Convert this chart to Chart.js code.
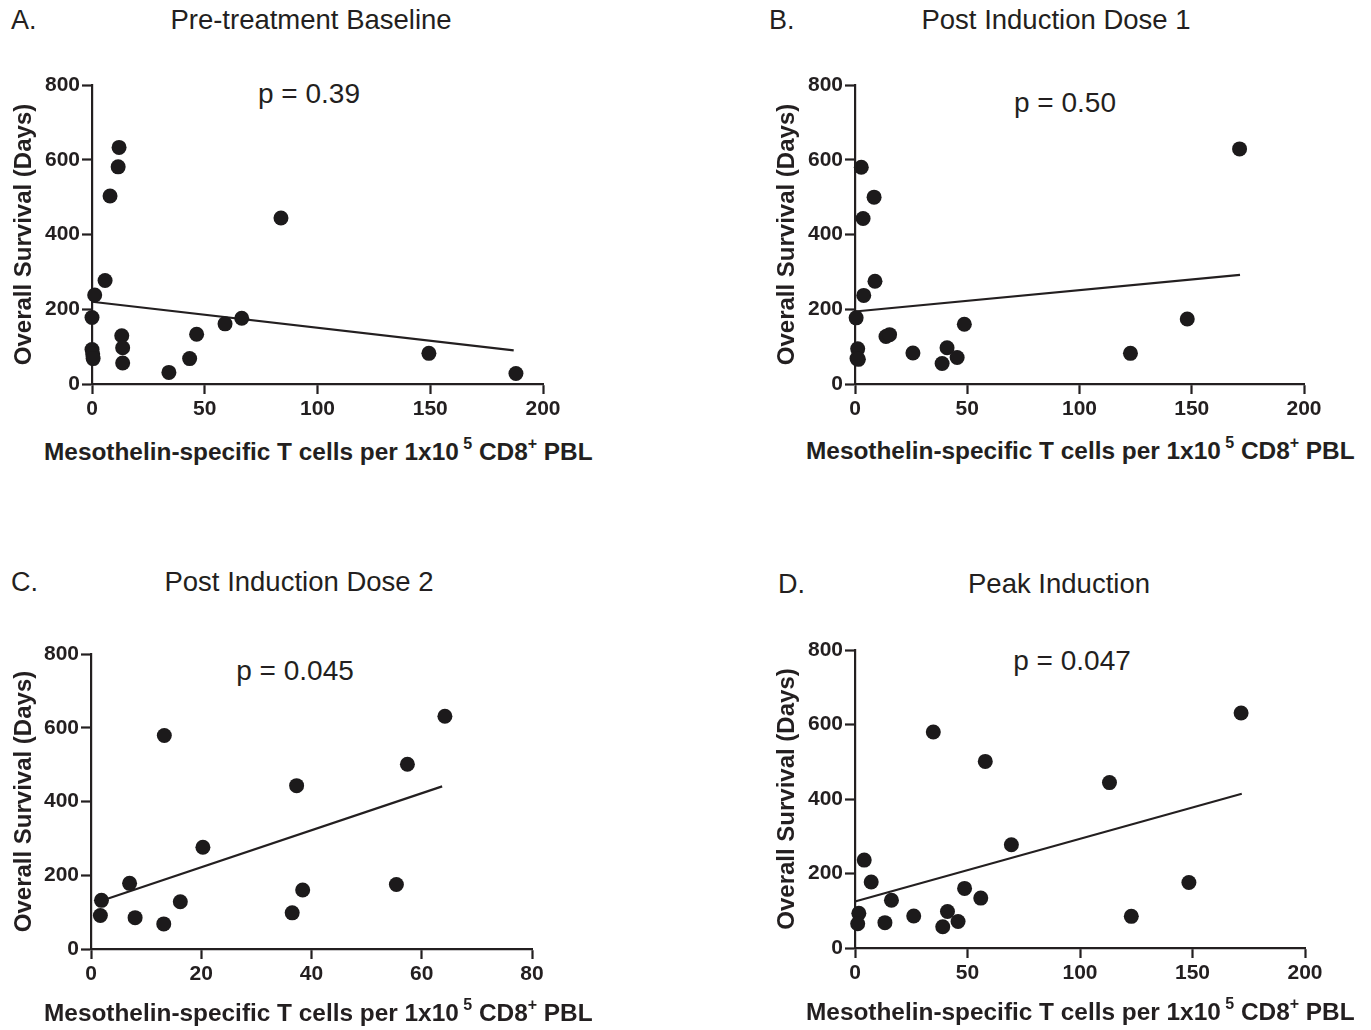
<!DOCTYPE html>
<html>
<head>
<meta charset="utf-8">
<script src="https://cdn.jsdelivr.net/npm/chart.js@4.4.0/dist/chart.umd.min.js"></script>
<style>
    body {
        margin: 0;
        width: 1371px;
        height: 1030px;
        background: #ffffff;
        position: relative;
        overflow: hidden;
        font-family: Arial, 'Liberation Sans', sans-serif;
        color: #231f20;
    }
    canvas {
        position: absolute;
    }
    .txt {
        position: absolute;
        white-space: nowrap;
        transform: translate(-50%, -50%);
        font-size: 27.5px;
        line-height: 1;
    }
    .letter {
        position: absolute;
        white-space: nowrap;
        transform: translateY(-50%);
        font-size: 27px;
        line-height: 1;
    }
    .pval {
        font-size: 28px;
    }
    .xtitle {
        position: absolute;
        white-space: nowrap;
        transform: translateY(-50%);
        font-size: 24.4px;
        font-weight: bold;
        line-height: 1;
    }
    .xtitle sup {
        font-size: 16px;
        vertical-align: 11px;
        line-height: 0;
    }
</style>
</head>
<body>

<div class="letter" style="left:11px; top:20px;">A.</div>
<div class="txt" style="left:311px; top:20px;">Pre-treatment Baseline</div>
<div class="txt pval" style="left:309px; top:94px;">p = 0.39</div>
<canvas id="chartA" width="580" height="370" style="left:0px; top:60px;"></canvas>
<div class="xtitle" style="left:44px; top:452px;">Mesothelin-specific T cells per 1x10<sup> 5</sup> CD8<sup>+</sup> PBL</div>

<div class="letter" style="left:769px; top:20px;">B.</div>
<div class="txt" style="left:1056px; top:20px;">Post Induction Dose 1</div>
<div class="txt pval" style="left:1065px; top:103px;">p = 0.50</div>
<canvas id="chartB" width="580" height="370" style="left:763px; top:60px;"></canvas>
<div class="xtitle" style="left:806px; top:451px;">Mesothelin-specific T cells per 1x10<sup> 5</sup> CD8<sup>+</sup> PBL</div>

<div class="letter" style="left:11px; top:582px;">C.</div>
<div class="txt" style="left:299px; top:582px;">Post Induction Dose 2</div>
<div class="txt pval" style="left:295px; top:671px;">p = 0.045</div>
<canvas id="chartC" width="580" height="370" style="left:0px; top:630px;"></canvas>
<div class="xtitle" style="left:44px; top:1013px;">Mesothelin-specific T cells per 1x10<sup> 5</sup> CD8<sup>+</sup> PBL</div>

<div class="letter" style="left:778px; top:584px;">D.</div>
<div class="txt" style="left:1059px; top:584px;">Peak Induction</div>
<div class="txt pval" style="left:1072px; top:661px;">p = 0.047</div>
<canvas id="chartD" width="580" height="370" style="left:763px; top:625px;"></canvas>
<div class="xtitle" style="left:806px; top:1012px;">Mesothelin-specific T cells per 1x10<sup> 5</sup> CD8<sup>+</sup> PBL</div>

<script>
// Panel A - pre-treatment baseline
const baselineCells = [12.0, 11.6, 8.0, 83.8, 5.8, 1.2, 0, 13.2, 13.6, 13.6, 0, 0.3, 0.5, 34.1, 43.3, 46.4, 59.0, 66.4, 149.4, 188.0];
const baselineSurvival = [633, 581, 503, 444, 277, 238, 178, 129, 97, 56, 92, 80, 68, 31, 68, 133, 161, 176, 82, 28];
const baselineFitX = [0, 187];
const baselineFitY = [220, 90];

// Panel B - post induction dose 1
const dose1Cells = [171.3, 2.8, 8.5, 3.6, 8.9, 3.9, 0.5, 1.2, 0.9, 1.5, 13.8, 15.4, 25.8, 38.8, 41.0, 45.5, 48.7, 122.7, 148.0];
const dose1Survival = [629, 580, 500, 443, 275, 237, 177, 94, 68, 66, 127, 132, 83, 55, 97, 71, 160, 82, 174];
const dose1FitX = [0, 171.5];
const dose1FitY = [194, 292];

// Panel C - post induction dose 2
const dose2Cells = [64.2, 13.3, 57.4, 37.3, 20.3, 7.0, 1.9, 1.7, 8.0, 13.2, 16.2, 36.5, 38.4, 55.4];
const dose2Survival = [631, 579, 501, 443, 276, 178, 132, 91, 85, 68, 128, 98, 160, 175];
const dose2FitX = [1.9, 63.7];
const dose2FitY = [131, 441];

// Panel D - peak induction
const peakCells = [171.6, 34.8, 57.9, 113.1, 69.5, 4.1, 7.2, 16.2, 1.7, 1.2, 13.3, 26.1, 39.0, 41.1, 45.8, 48.7, 55.9, 122.8, 148.4];
const peakSurvival = [631, 580, 501, 444, 277, 236, 177, 128, 93, 65, 68, 86, 57, 98, 71, 160, 134, 85, 176];
const peakFitX = [0, 171.9];
const peakFitY = [125, 414];

const yTicks = [0, 200, 400, 600, 800];

const ink = '#231f20';
const tickFont = {family: "Arial, 'Liberation Sans', sans-serif", size: 21, weight: 'bold'};

function toPoints(xs, ys) {
    return xs.map((x, i) => ({x: x, y: ys[i]}));
}

function makePanel(id, xs, ys, fitX, fitY, xMax, xStep, box) {
    const ctx = document.getElementById(id).getContext('2d');
    return new Chart(ctx, {
        type: 'scatter',
        data: {
            datasets: [
                {
                    data: toPoints(xs, ys),
                    backgroundColor: '#1c1a1b',
                    borderWidth: 0,
                    pointRadius: 7.5,
                    clip: false
                },
                {
                    type: 'line',
                    data: toPoints(fitX, fitY),
                    borderColor: ink,
                    borderWidth: 2.2,
                    pointRadius: 0,
                    fill: false,
                    clip: false
                }
            ]
        },
        options: {
            responsive: false,
            animation: false,
            events: [],
            layout: {
                padding: {top: box.top, right: box.right, bottom: 0, left: 0}
            },
            plugins: {
                legend: {display: false},
                tooltip: {enabled: false}
            },
            scales: {
                x: {
                    type: 'linear',
                    min: 0,
                    max: xMax,
                    afterFit: s => { s.height = box.xh; },
                    border: {display: true, color: ink, width: 2.2},
                    grid: {
                        drawOnChartArea: false,
                        drawTicks: true,
                        tickLength: 10,
                        tickWidth: 2.2,
                        tickColor: ink
                    },
                    ticks: {
                        stepSize: xStep,
                        color: ink,
                        font: tickFont,
                        padding: 3,
                        maxRotation: 0
                    }
                },
                y: {
                    type: 'linear',
                    min: 0,
                    max: 800,
                    afterFit: s => { s.width = box.yw; },
                    afterBuildTicks: s => { s.ticks = yTicks.map(v => ({value: v})); },
                    border: {display: true, color: ink, width: 2.2},
                    grid: {
                        drawOnChartArea: false,
                        drawTicks: true,
                        tickLength: 10,
                        tickWidth: 2.2,
                        tickColor: ink
                    },
                    ticks: {
                        color: ink,
                        font: tickFont,
                        padding: 2
                    },
                    title: {
                        display: true,
                        text: 'Overall Survival (Days)',
                        color: ink,
                        font: {family: "Arial, 'Liberation Sans', sans-serif", size: 24, weight: 'bold'},
                        padding: {top: 10, bottom: 0}
                    }
                }
            }
        }
    });
}

makePanel('chartA', baselineCells, baselineSurvival, baselineFitX, baselineFitY, 200, 50, {top: 25, right: 37, xh: 46, yw: 92});
makePanel('chartB', dose1Cells, dose1Survival, dose1FitX, dose1FitY, 200, 50, {top: 25, right: 39, xh: 46, yw: 92});
makePanel('chartC', dose2Cells, dose2Survival, dose2FitX, dose2FitY, 80, 20, {top: 24, right: 48, xh: 51, yw: 91});
makePanel('chartD', peakCells, peakSurvival, peakFitX, peakFitY, 200, 50, {top: 25, right: 38, xh: 47, yw: 92});
</script>
</body>
</html>
